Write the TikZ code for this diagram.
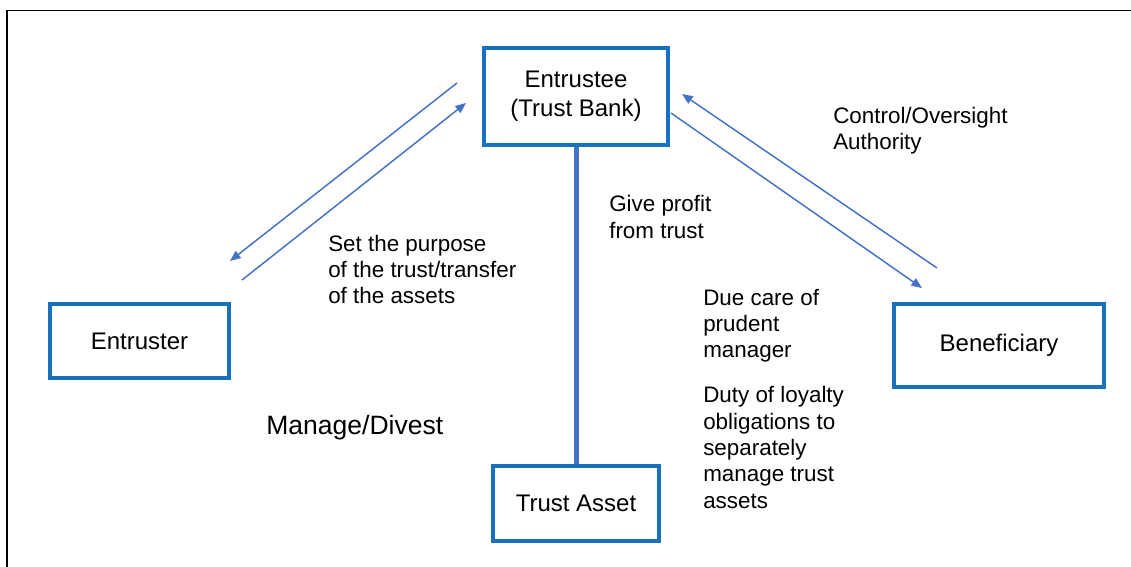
\documentclass[tikz,border=0pt]{standalone}
\usepackage{fontspec}
\setmainfont{Liberation Sans}
\usetikzlibrary{arrows.meta}
\definecolor{boxblue}{RGB}{24,113,190}
\definecolor{arrowblue}{RGB}{68,114,196}
\tikzset{
  box/.style={draw=boxblue, line width=3pt, rectangle, fill=white, align=center,
    inner sep=0pt, font=\fontsize{18}{21.75}\selectfont},
  lab/.style={anchor=west, align=left, inner sep=0pt,
    font=\fontsize{16.8}{19.7}\selectfont},
  arr/.style={draw=arrowblue, line width=1.1pt,
    -{Triangle[length=8pt,width=6.5pt]}},
  trunk/.style={draw=arrowblue, line width=3.75pt},
  frame/.style={draw=black, line width=1.1pt}
}
\begin{document}
\begin{tikzpicture}[x=0.75pt,y=-0.75pt]
\useasboundingbox (0,0) rectangle (1131,567);
\draw[frame] (7,567) -- (7,10.5) -- (1131,10.5);

\node[box, minimum width=138pt, minimum height=72.8pt] (trustee) at (576,96.5) {Entrustee\\(Trust Bank)};
\node[box, minimum width=124.5pt, minimum height=56.25pt] (asset) at (576,503.5) {Trust Asset};
\node[box, minimum width=134.25pt, minimum height=55.5pt] (truster) at (139.5,341) {Entruster};
\node[box, minimum width=157.5pt, minimum height=62.25pt] (benef) at (999,345.5) {Beneficiary};

\draw[trunk] (trustee.south) -- (asset.north);

\coordinate (a1s) at (457,83);
\coordinate (a1e) at (230,261);
\coordinate (a2s) at (242,280);
\coordinate (a2e) at (466,103);
\coordinate (a3s) at (671,113);
\coordinate (a3e) at (922,288);
\coordinate (a4s) at (937,268);
\coordinate (a4e) at (682,94);
\draw[arr] (a1s) -- (a1e);
\draw[arr] (a2s) -- (a2e);
\draw[arr] (a3s) -- (a3e);
\draw[arr] (a4s) -- (a4e);

\node[lab] (l1) at (328,269.5) {Set the purpose\\of the trust/transfer\\of the assets};
\node[lab] (l2) at (609,217) {Give profit\\from trust};
\node[lab] (l3) at (833,131) {Control/Oversight\\Authority};
\node[lab] (l4) at (703,325.5) {Due care of\\prudent\\manager};
\node[lab] (l5) at (703,447.5) {Duty of loyalty\\obligations to\\separately\\manage trust\\assets};
\node[lab, font=\fontsize{19.9}{23}\selectfont] (l6) at (266,428) {Manage/Divest};
\end{tikzpicture}
\end{document}
